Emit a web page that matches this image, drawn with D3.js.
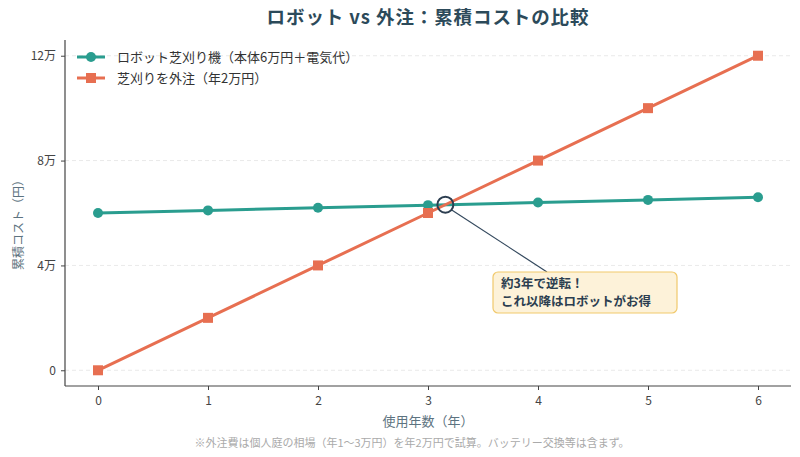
<!DOCTYPE html>
<html>
<head>
<meta charset="utf-8">
<script src="https://cdn.jsdelivr.net/npm/d3@7"></script>
<style>
  body { margin: 0; background: #fff; }
  text { font-family: "Noto Sans CJK JP", "Noto Sans", sans-serif; }
</style>
</head>
<body>
<svg id="chart"></svg>
<script>
const years = [0, 1, 2, 3, 4, 5, 6];
const robotCost = [60000, 61000, 62000, 63000, 64000, 65000, 66000];
const outsourceCost = [0, 20000, 40000, 60000, 80000, 100000, 120000];
const yTicks = [0, 40000, 80000, 120000];
const yTickLabels = ["0", "4万", "8万", "12万"];
const seriesNames = ["ロボット芝刈り機（本体6万円＋電気代）", "芝刈りを外注（年2万円）"];
const breakEven = { x: 60000 / 19000, y: 60000 + 60000 / 19000 * 1000 };

const W = 800, H = 457;
const margin = { top: 40, right: 9, bottom: 71, left: 65 };
const green = "#2a9d8f", orange = "#e76f51";

const svg = d3.select("#chart").attr("width", W).attr("height", H);

const x = d3.scaleLinear().domain([-0.3, 6.3]).range([margin.left, W - margin.right]);
const y = d3.scaleLinear().domain([-6000, 126000]).range([H - margin.bottom, margin.top]);

// grid
svg.append("g")
  .selectAll("line")
  .data(yTicks)
  .enter()
  .append("line")
  .attr("x1", margin.left)
  .attr("x2", W - margin.right)
  .attr("y1", d => y(d))
  .attr("y2", d => y(d))
  .attr("stroke", "#e3e3e3")
  .attr("stroke-dasharray", "4,3")
  .attr("stroke-width", 0.8);

// axes
const xAxis = svg.append("g")
  .attr("transform", `translate(0,${H - margin.bottom})`)
  .call(d3.axisBottom(x).tickValues(years).tickFormat(d3.format("d")).tickSize(4).tickPadding(6));
const yAxis = svg.append("g")
  .attr("transform", `translate(${margin.left},0)`)
  .call(d3.axisLeft(y).tickValues(yTicks).tickFormat((d, i) => yTickLabels[i]).tickSize(4).tickPadding(5));

[xAxis, yAxis].forEach(a => {
  a.select(".domain").attr("stroke", "#444").attr("stroke-width", 1.2);
  a.selectAll(".tick line").attr("stroke", "#444");
  a.selectAll(".tick text").attr("fill", "#444").attr("font-size", 12);
});
xAxis.select(".domain").attr("d", `M${margin.left},0H${W - margin.right}`);
yAxis.select(".domain").attr("d", `M0,${margin.top}V${H - margin.bottom}`);

// lines
const line = d3.line().x(d => x(d[0])).y(d => y(d[1]));
const robotPts = years.map((t, i) => [t, robotCost[i]]);
const outPts = years.map((t, i) => [t, outsourceCost[i]]);

svg.append("path").datum(robotPts).attr("d", line)
  .attr("fill", "none").attr("stroke", green).attr("stroke-width", 3);
svg.append("path").datum(outPts).attr("d", line)
  .attr("fill", "none").attr("stroke", orange).attr("stroke-width", 3);

svg.append("g").selectAll("circle").data(robotPts).enter().append("circle")
  .attr("cx", d => x(d[0])).attr("cy", d => y(d[1])).attr("r", 5).attr("fill", green);
svg.append("g").selectAll("rect").data(outPts).enter().append("rect")
  .attr("x", d => x(d[0]) - 5).attr("y", d => y(d[1]) - 5)
  .attr("width", 10).attr("height", 10).attr("fill", orange);

// break-even marker + annotation
const bx = x(breakEven.x), by = y(breakEven.y);
const boxX = 493, boxY = 272, boxW = 184, boxH = 41;
svg.append("line")
  .attr("x1", bx + 6).attr("y1", by + 5)
  .attr("x2", 547).attr("y2", boxY)
  .attr("stroke", "#34495e").attr("stroke-width", 1.2);
svg.append("circle")
  .attr("cx", bx).attr("cy", by).attr("r", 8)
  .attr("fill", "none").attr("stroke", "#2c3e50").attr("stroke-width", 2);
svg.append("rect")
  .attr("x", boxX).attr("y", boxY).attr("width", boxW).attr("height", boxH)
  .attr("rx", 5).attr("fill", "#fdf2d9").attr("stroke", "#f1c96c").attr("stroke-width", 1.2);
const ann = svg.append("text")
  .attr("x", boxX + 8).attr("y", boxY + 16)
  .attr("fill", "#2c3e50").attr("font-size", 12.5).attr("font-weight", "bold");
ann.append("tspan").attr("x", boxX + 8).text("約3年で逆転！");
ann.append("tspan").attr("x", boxX + 8).attr("dy", 18).text("これ以降はロボットがお得");

// legend
const legend = svg.append("g");
[green, orange].forEach((c, i) => {
  const ly = 57 + i * 21;
  legend.append("line").attr("x1", 77).attr("x2", 105).attr("y1", ly).attr("y2", ly)
    .attr("stroke", c).attr("stroke-width", 3);
  if (i === 0) {
    legend.append("circle").attr("cx", 91).attr("cy", ly).attr("r", 5).attr("fill", c);
  } else {
    legend.append("rect").attr("x", 86).attr("y", ly - 5).attr("width", 10).attr("height", 10).attr("fill", c);
  }
  legend.append("text").attr("x", 117).attr("y", ly + 4.5)
    .attr("font-size", 13).attr("fill", "#333").text(seriesNames[i]);
});

// titles
const cx = (margin.left + W - margin.right) / 2;
svg.append("text").attr("x", cx).attr("y", 24).attr("text-anchor", "middle")
  .attr("font-size", 18.5).attr("font-weight", "bold").attr("fill", "#2c4a5a")
  .attr("letter-spacing", 0.9)
  .text("ロボット vs 外注：累積コストの比較");
svg.append("text").attr("x", cx).attr("y", 426).attr("text-anchor", "middle")
  .attr("font-size", 13).attr("fill", "#5d7380").text("使用年数（年）");
svg.append("text")
  .attr("transform", `translate(23,222) rotate(-90)`)
  .attr("text-anchor", "middle").attr("font-size", 12).attr("fill", "#5d7380")
  .text("累積コスト（円）");
svg.append("text").attr("x", 412).attr("y", 447).attr("text-anchor", "middle")
  .attr("font-size", 11).attr("fill", "#aaaaaa")
  .text("※外注費は個人庭の相場（年1〜3万円）を年2万円で試算。バッテリー交換等は含まず。");
</script>
</body>
</html>
